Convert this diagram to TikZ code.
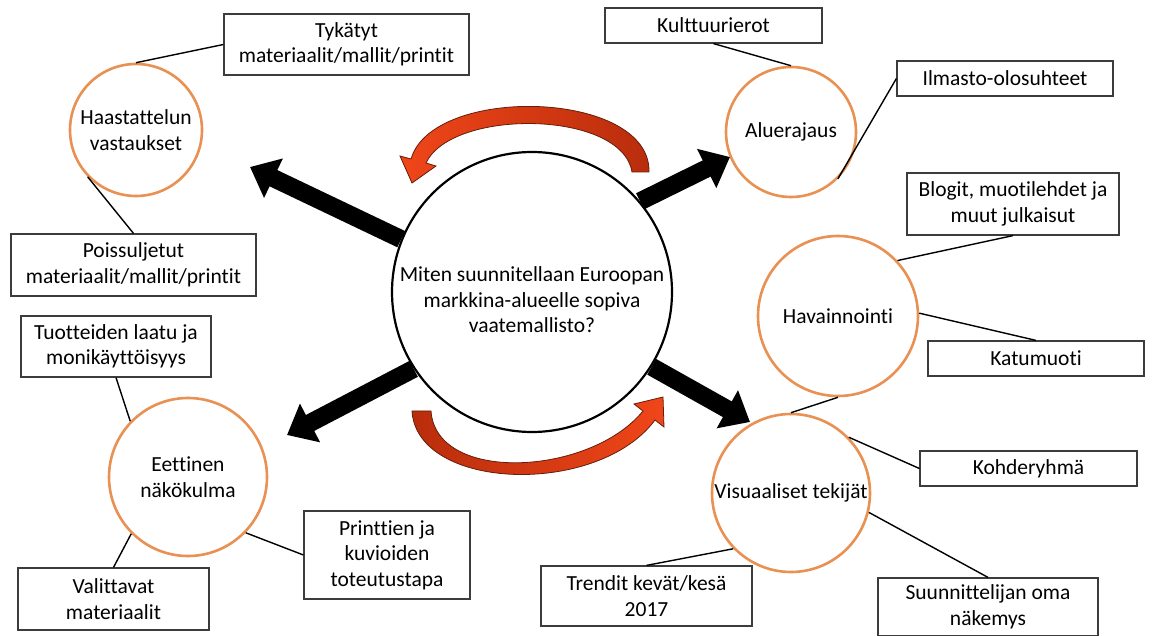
\documentclass[tikz,border=0pt]{standalone}
\usepackage{fontspec}
\setmainfont{Carlito}[Ligatures=NoCommon]
\usepackage{xcolor}
\usepackage{tikz}
\usetikzlibrary{arrows.meta, calc}
\definecolor{ringorange}{RGB}{232,145,82}
\definecolor{boxline}{RGB}{60,60,60}
\definecolor{arrowred}{RGB}{240,70,25}
\definecolor{arrowdark}{RGB}{185,45,12}
\definecolor{arrowedge}{RGB}{100,30,10}
\tikzstyle{theme} = [circle, draw=ringorange, line width=2.6pt, inner sep=0pt, align=center]
\tikzstyle{question} = [circle, draw=black, line width=2.2pt, inner sep=0pt, minimum size=280pt]
\tikzstyle{note} = [rectangle, draw=boxline, line width=1.2pt, inner sep=0pt, align=center]
\tikzstyle{link} = [line width=1.4pt]
\tikzstyle{bigarrow} = [line width=18pt, -{Triangle[length=26pt,width=42pt]}]
\tikzstyle{redarrow} = [draw=arrowedge, line width=0.8pt]

\begin{document}
\begin{tikzpicture}[x=1pt, y=-1pt, font=\fontsize{21.5}{25.5}\selectfont]
              \useasboundingbox (0,0) rectangle (1152,636);

              \node[question] (q) at (532,292) {};
              \node[align=center, inner sep=0pt] (q-text) at (532,300) {Miten suunnitellaan Euroopan\\markkina-alueelle sopiva\\vaatemallisto?};

              \node[theme, minimum size=132pt] (theme-1) at (136,130) {Haastattelun\\vastaukset};
              \node[theme, minimum size=158pt] (theme-2) at (188,477) {Eettinen\\näkökulma};
              \node[theme, minimum size=130pt] (theme-3) at (791,132) {Aluerajaus};
              \node[theme, minimum size=160pt] (theme-4) at (838,316) {Havainnointi};
              \node[theme, minimum size=158pt] (theme-5) at (791,493) {Visuaaliset tekijät};

              \node[note, minimum width=245pt, minimum height=61pt] (note-1-1) at (346.5,44.5) {Tykätyt\\materiaalit/mallit/printit};
              \node[note, minimum width=245pt, minimum height=62pt] (note-1-2) at (133.5,265) {Poissuljetut\\materiaalit/mallit/printit};
              \node[note, minimum width=190pt, minimum height=61pt] (note-2-1) at (116,346.5) {Tuotteiden laatu ja\\monikäyttöisyys};
              \node[note, minimum width=191pt, minimum height=62pt] (note-2-2) at (113.5,599) {Valittavat\\materiaalit};
              \node[note, minimum width=166pt, minimum height=88pt] (note-2-3) at (387,555) {Printtien ja\\kuvioiden\\toteutustapa};
              \node[note, minimum width=217pt, minimum height=35pt] (note-3-1) at (713.5,25.5) {Kulttuurierot};
              \node[note, minimum width=216pt, minimum height=35pt] (note-3-2) at (1005,78.5) {Ilmasto-olosuhteet};
              \node[note, minimum width=212pt, minimum height=62pt] (note-4-1) at (1013,204) {Blogit, muotilehdet ja\\muut julkaisut};
              \node[note, minimum width=216pt, minimum height=35pt] (note-4-2) at (1036,358.5) {Katumuoti};
              \node[note, minimum width=217pt, minimum height=35pt] (note-5-1) at (1028.5,468.5) {Kohderyhmä};
              \node[note, minimum width=220pt, minimum height=58pt] (note-5-2) at (988,607) {Suunnittelijan oma\\näkemys};
              \node[note, minimum width=211pt, minimum height=60pt] (note-5-3) at (646.5,596) {Trendit kevät/kesä\\2017};

              \draw[link] (note-1-1.west) -- (theme-1.north);
              \draw[link] (theme-1.224) -- (note-1-2.north);
              \draw[link] (note-2-1.south) -- (theme-2.136);
              \draw[link] (theme-2.225) -- (note-2-2.north);
              \draw[link] (theme-2.-44) -- (note-2-3.west);
              \draw[link] (note-3-1.south) -- (theme-3.north);
              \draw[link] (note-3-2.west) -- (theme-3.-45);
              \draw[link] (theme-4.43) -- (note-4-1.south);
              \draw[link] (theme-4.2) -- (note-4-2.north);
              \draw[link] (theme-4.south) -- (theme-5.north);
              \draw[link] (theme-5.44) -- (note-5-1.west);
              \draw[link] (theme-5.-14) -- (note-5-2.north);
              \draw[link] (theme-5.224) -- (note-5-3.north);

              \coordinate (tip-1) at (250,167);
              \coordinate (tip-2) at (287,435);
              \coordinate (tip-3) at (730,157);
              \coordinate (tip-4) at (750,422);
              \draw[bigarrow] (q.158) -- (tip-1);
              \draw[bigarrow] (q.213) -- (tip-2);
              \draw[bigarrow] (q.40) -- (tip-3);
              \draw[bigarrow] (q.-32) -- (tip-4);

              \path[redarrow, left color=arrowred, right color=arrowdark]
                (649,172) .. controls (651,90) and (433,84) .. (411,159)
                -- (400,156) -- (412,183) -- (436,166) -- (426,163)
                .. controls (452,108) and (622,110) .. (632,172) -- cycle;
              \path[redarrow, left color=arrowdark, right color=arrowred]
                (412,411) .. controls (417,491) and (598,497) .. (655,420)
                -- (664,427) -- (663,397) -- (634,404) -- (643,411)
                .. controls (590,476) and (436,484) .. (431,411) -- cycle;

          \end{tikzpicture}
\end{document}
